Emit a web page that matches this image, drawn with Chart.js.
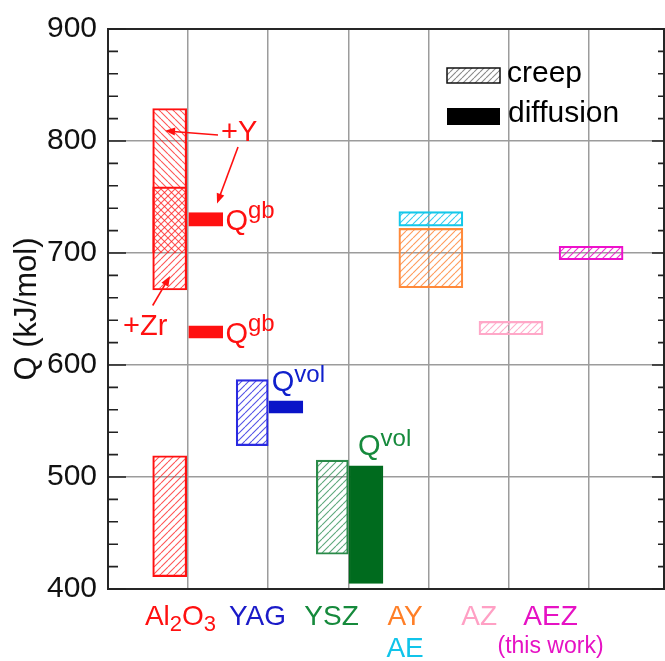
<!DOCTYPE html>
<html><head><meta charset="utf-8">
<script src="https://cdn.jsdelivr.net/npm/chart.js@4.4.1/dist/chart.umd.min.js"></script>
<style>html,body{margin:0;padding:0;background:#fff;}#wrap{width:665px;height:661px;}</style>
</head><body><div id="wrap"><canvas id="c" width="665" height="661"></canvas></div>
<script>
// ---------------- data ----------------
const categories = ['Al2O3', 'YAG', 'YSZ', 'AY\nAE', 'AZ', 'AEZ\n(this work)'];
const yTicks = [400, 500, 600, 700, 800, 900];
// creep activation energy ranges [low, high] (kJ/mol)
const creepAl2O3   = [411, 519];
const creepAl2O3Zr = [667, 759];
const creepAl2O3Y  = [700, 829];
const creepYAG     = [528, 587];
const creepYSZ     = [431, 515];
const creepAY      = [669, 722];
const creepAE      = [724, 737];
const creepAZ      = [627, 639];
const creepAEZ     = [694, 706];
// diffusion activation energies [low, high] (kJ/mol)
const diffAl2O3Y   = [724, 736];
const diffAl2O3Zr  = [624, 635];
const diffYAG      = [557, 568];
const diffYSZ      = [405, 510];

// ---------------- styles / layout ----------------
const FONT = '"Liberation Sans", Arial, Helvetica, sans-serif';
const f = s => s + 'px ' + FONT;
const C = {
  red: '#ff1010', blue: '#2a2ae0', blueD: '#0a14c8', green: '#2a8a48', greenD: '#006b1e',
  orange: '#ff8a3a', cyan: '#14c8ea', pink: '#ffa8c8', magenta: '#ee10cc',
  grid: '#9c9c9c', axis: '#262626'
};
function hatch(color, dir, s) {
  s = s || 7;
  const cv = document.createElement('canvas');
  cv.width = s; cv.height = s;
  const g = cv.getContext('2d');
  g.strokeStyle = color; g.lineWidth = 1.1;
  g.beginPath();
  for (const k of [-1, 0, 1]) {
    if (dir === '/') { g.moveTo(k * s, s); g.lineTo(k * s + s, 0); }
    else { g.moveTo(k * s, 0); g.lineTo(k * s + s, s); }
  }
  g.stroke();
  return g.createPattern(cv, 'repeat');
}
const OFF = { creepAl: -0.23, creep: -0.2, diff: 0.22, wide: 0.03 };
const pt = (cat, off, r) => ({ x: cat + 1 + off, y: r });
function box(label, data, fill, border, thick, skip) {
  return { label, data, backgroundColor: fill, borderColor: border, borderWidth: 1.5,
           borderSkipped: skip || false, barThickness: thick, grouped: true, stack: 's' };
}
const datasets = [
  box('Al2O3 +Y creep', [pt(0, OFF.creepAl, creepAl2O3Y)], hatch('rgba(255,30,30,0.75)', '\\'), C.red, 34, 'start'),
  box('Al2O3 creep', [pt(0, OFF.creepAl, creepAl2O3), pt(0, OFF.creepAl, creepAl2O3Zr)], hatch('rgba(255,30,30,0.75)', '/'), C.red, 34),
  box('YAG creep', [pt(1, OFF.creep, creepYAG)], hatch('rgba(40,40,225,0.8)', '/'), C.blue, 32),
  box('YSZ creep', [pt(2, OFF.creep, creepYSZ)], hatch('rgba(40,140,80,0.75)', '/'), C.green, 32),
  box('AY creep', [pt(3, OFF.wide, creepAY)], hatch('rgba(255,130,50,0.8)', '/'), C.orange, 64),
  box('AE creep', [pt(3, OFF.wide, creepAE)], hatch('rgba(20,195,235,0.85)', '/'), C.cyan, 64),
  box('AZ creep', [pt(4, OFF.wide, creepAZ)], hatch('rgba(255,160,195,0.85)', '/'), C.pink, 64),
  box('AEZ creep', [pt(5, OFF.wide, creepAEZ)], hatch('rgba(235,16,200,0.85)', '/'), C.magenta, 64),
  box('Al2O3 diffusion', [pt(0, OFF.diff, diffAl2O3Y), pt(0, OFF.diff, diffAl2O3Zr)], C.red, C.red, 34),
  box('YAG diffusion', [pt(1, OFF.diff, diffYAG)], C.blueD, C.blueD, 34),
  box('YSZ diffusion', [pt(2, OFF.diff, diffYSZ)], C.greenD, C.greenD, 34)
];

// label layout (x in axis units, line colours, sizes, baselines)
const LABEL_X = [0.905, 1.866, 2.79, 3.708, 4.632, 5.524];
const LABEL_COL = [[C.red], ['#1a1ac8'], ['#168a3c'], ['#ff7f27', '#10c4ea'], ['#ffa0c4'], ['#e612c4', '#e612c4']];
const LABEL_SIZE = [[28], [28], [28], [28, 28], [28], [28, 23]];
const LABEL_BASE = [625, 657];

function drawRuns(ctx, runs, x, base, align) {
  let total = 0;
  runs.forEach(r => { ctx.font = f(r.s); r.w = ctx.measureText(r.t).width; total += r.w; });
  let cx = align === 'center' ? x - total / 2 : x;
  ctx.textAlign = 'left';
  runs.forEach(r => { ctx.font = f(r.s); ctx.fillText(r.t, cx, base + (r.dy || 0)); cx += r.w; });
  return total;
}
function arrow(ctx, x1, y1, x2, y2, color) {
  const a = Math.atan2(y2 - y1, x2 - x1), L = 10, W = 4;
  ctx.strokeStyle = color; ctx.fillStyle = color; ctx.lineWidth = 1.6;
  ctx.beginPath(); ctx.moveTo(x1, y1); ctx.lineTo(x2 - Math.cos(a) * L * 0.8, y2 - Math.sin(a) * L * 0.8); ctx.stroke();
  ctx.beginPath();
  ctx.moveTo(x2, y2);
  ctx.lineTo(x2 - L * Math.cos(a) + W * Math.sin(a), y2 - L * Math.sin(a) - W * Math.cos(a));
  ctx.lineTo(x2 - L * Math.cos(a) - W * Math.sin(a), y2 - L * Math.sin(a) + W * Math.cos(a));
  ctx.closePath(); ctx.fill();
}

const decor = {
  id: 'decor',
  afterDraw(chart) {
    const { ctx, chartArea: a, scales: { x, y } } = chart;
    const X = v => x.getPixelForValue(v), Y = v => y.getPixelForValue(v);
    ctx.save();
    // frame
    ctx.strokeStyle = C.axis; ctx.lineWidth = 2;
    ctx.strokeRect(a.left, a.top, a.right - a.left, a.bottom - a.top);
    // minor / major ticks (inward) on left and right
    ctx.lineWidth = 1.6; ctx.strokeStyle = '#222';
    for (let v = 400; v <= 900; v += 20) {
      const major = v % 100 === 0, py = Y(v);
      ctx.beginPath();
      ctx.moveTo(a.left, py); ctx.lineTo(a.left + (major ? 18 : 10), py);
      ctx.moveTo(a.right, py); ctx.lineTo(a.right - (major ? 12 : 6), py);
      ctx.stroke();
    }
    // legend
    ctx.fillStyle = '#fff'; ctx.fillRect(447, 68, 53, 15);
    ctx.fillStyle = hatch('#8a8a8a', '/', 6); ctx.fillRect(447, 68, 53, 15);
    ctx.strokeStyle = '#111'; ctx.lineWidth = 1.5; ctx.strokeRect(447, 68, 53, 15);
    ctx.fillStyle = '#000'; ctx.fillRect(447, 108, 53, 17);
    ctx.font = f(30); ctx.textAlign = 'left'; ctx.textBaseline = 'alphabetic';
    ctx.fillText('creep', 507, 82);
    ctx.fillText('diffusion', 508, 122);
    // annotations (red)
    ctx.fillStyle = C.red;
    drawRuns(ctx, [{ t: '+Y', s: 29 }], X(1.411), Y(800.3), 'left');
    drawRuns(ctx, [{ t: '+Zr', s: 29 }], X(0.187), Y(626.5), 'left');
    arrow(ctx, X(1.373), Y(805.3), X(0.712), Y(809.1), C.red);
    arrow(ctx, X(1.623), Y(794.7), X(1.361), Y(744.2), C.red);
    arrow(ctx, X(0.558), Y(653.1), X(0.774), Y(679.4), C.red);
    ctx.fillStyle = C.red;
    drawRuns(ctx, [{ t: 'Q', s: 29 }, { t: 'gb', s: 24, dy: -12 }], X(1.466), Y(720.4), 'left');
    drawRuns(ctx, [{ t: 'Q', s: 29 }, { t: 'gb', s: 24, dy: -12 }], X(1.466), Y(619.5), 'left');
    ctx.fillStyle = '#1020cc';
    drawRuns(ctx, [{ t: 'Q', s: 29 }, { t: 'vol', s: 24, dy: -9 }], X(2.044), Y(577), 'left');
    ctx.fillStyle = '#168a3c';
    drawRuns(ctx, [{ t: 'Q', s: 29 }, { t: 'vol', s: 24, dy: -9 }], X(3.121), Y(519.5), 'left');
    // category labels
    categories.forEach((name, i) => {
      name.split('\n').forEach((line, j) => {
        const s = LABEL_SIZE[i][j];
        const runs = [];
        for (const ch of line) {
          if (/[0-9]/.test(ch)) runs.push({ t: ch, s: Math.round(s * 0.8), dy: 6 });
          else if (runs.length && !runs[runs.length - 1].dy) runs[runs.length - 1].t += ch;
          else runs.push({ t: ch, s });
        }
        ctx.fillStyle = LABEL_COL[i][j];
        drawRuns(ctx, runs, X(LABEL_X[i]), LABEL_BASE[j] - (s < 28 ? 4 : 0), 'center');
      });
    });
    ctx.restore();
  }
};

new Chart(document.getElementById('c'), {
  type: 'bar',
  data: { datasets },
  options: {
    responsive: false, animation: false,
    layout: { padding: { top: 24, right: 1, left: 0, bottom: 0 } },
    plugins: { legend: { display: false }, tooltip: { enabled: false } },
    scales: {
      x: {
        type: 'linear', min: 0, max: 6.94, offset: false, stacked: true,
        grid: { offset: false, drawTicks: false, lineWidth: 1.5,
          color: c => (Number.isInteger(c.tick.value) && c.tick.value > 0 && c.tick.value <= 6) ? C.grid : 'rgba(0,0,0,0)' },
        border: { display: false },
        ticks: { display: false, stepSize: 1 },
        afterFit: s => { s.height = 72; }
      },
      y: {
        type: 'linear', min: 400, max: 900, stacked: false, beginAtZero: false,
        afterBuildTicks: s => { s.ticks = yTicks.map(v => ({ value: v })); },
        grid: { drawTicks: false, lineWidth: 1.5,
          color: c => (c.tick.value > 400 && c.tick.value < 900) ? C.grid : 'rgba(0,0,0,0)' },
        border: { display: false },
        ticks: { padding: 11, color: '#111', font: { family: FONT, size: 30 } },
        title: { display: true, text: 'Q (kJ/mol)', color: '#111', font: { family: FONT, size: 31 }, padding: { top: 9, bottom: 0 } },
        afterFit: s => { s.width = 108; }
      }
    }
  },
  plugins: [decor]
});
</script></body></html>
